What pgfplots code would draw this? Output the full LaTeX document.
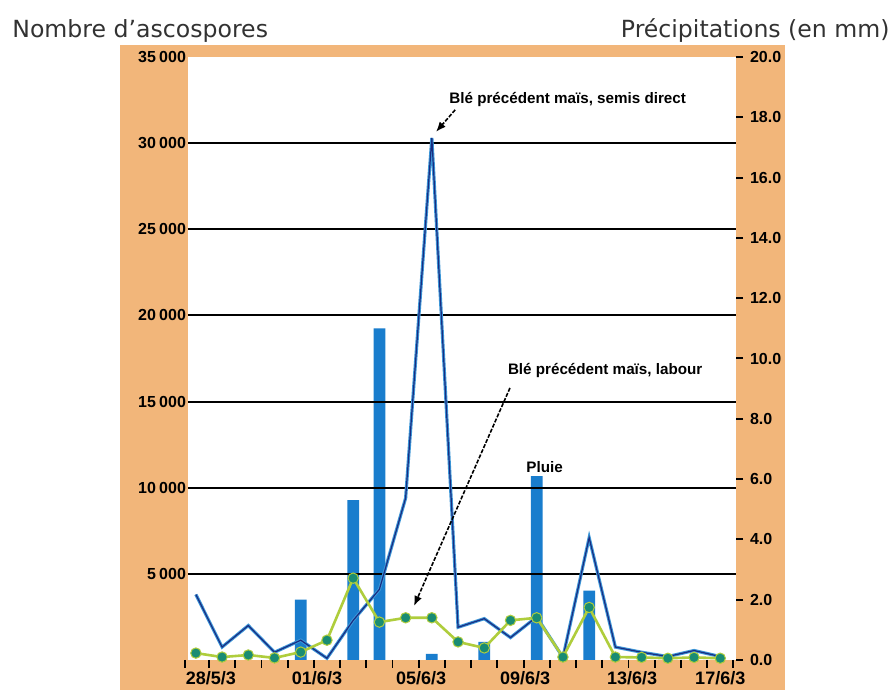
\documentclass[border=0pt]{standalone}
\usepackage{pgfplots}
\pgfplotsset{compat=1.18}
\usepackage{pgfplotstable}
\usepackage{fontspec}
\setmainfont{Liberation Sans}
\newfontfamily\titlefont{DejaVu Sans}
\usetikzlibrary{arrows.meta}

\definecolor{cadre}{RGB}{242,182,122}
\definecolor{pluie}{RGB}{25,125,205}
\definecolor{bleuclair}{RGB}{60,150,215}
\definecolor{marine}{RGB}{25,45,130}
\definecolor{jaunevert}{RGB}{175,205,60}
\definecolor{sarcelle}{RGB}{25,140,115}
\definecolor{titre}{RGB}{50,50,50}

% jour (0 = 28/5/3), nombre d'ascospores
\pgfplotstableread{
jour semis
0 3800
1 750
2 2000
3 450
4 1150
5 100
6 2300
7 4100
8 9400
9 30300
10 1900
11 2400
12 1300
13 2500
14 150
15 7100
16 750
17 450
18 200
19 550
20 200
}\semisdirect

\pgfplotstableread{
jour labour
0 400
1 170
2 290
3 120
4 460
5 1150
6 4750
7 2200
8 2450
9 2450
10 1050
11 700
12 2300
13 2450
14 170
15 3050
16 170
17 150
18 100
19 150
20 100
}\labour

% précipitations en mm
\pgfplotstableread{
jour mm
4 2.0
6 5.3
7 11.0
9 0.2
11 0.6
13 6.1
15 2.3
}\precip

\begin{document}
\begin{tikzpicture}
\path[use as bounding box] (-94pt,-15pt) rectangle (354pt,330pt);
\fill[cadre] (-34pt,-15pt) rectangle (298.5pt,307.5pt);
\fill[white] (0,0) rectangle (274pt,301.5pt);

\node[anchor=base west, font=\titlefont\fontsize{11.8}{13}\selectfont, text=titre, inner sep=0pt]
  at (-88pt,311.25pt) {Nombre d’ascospores};
\node[anchor=base east, font=\titlefont\fontsize{11.8}{13}\selectfont, text=titre, inner sep=0pt]
  at (351pt,311.25pt) {Précipitations (en mm)};

% axe de droite : pluie
\begin{axis}[
  at={(0,0)}, anchor=south west,
  scale only axis, width=274pt, height=301.5pt,
  xmin=-0.3, xmax=20.6, ymin=0, ymax=20,
  hide x axis,
  axis y line*=right,
  axis line style={draw=none},
  ytick={0,2,...,20},
  tick align=outside,
  major tick length=3.5pt,
  ytick style={black, line width=1pt},
  /pgf/number format/assume math mode=true,
  yticklabel style={font=\bfseries\fontsize{8}{9}\selectfont,
    /pgf/number format/.cd, fixed, fixed zerofill, precision=1},
]
\addplot[ybar, bar width=0.45, fill=pluie, draw=none] table[x=jour, y=mm] {\precip};
\end{axis}

% axe de gauche : ascospores
\begin{axis}[
  at={(0,0)}, anchor=south west,
  scale only axis, width=274pt, height=301.5pt,
  xmin=-0.3, xmax=20.6, ymin=0, ymax=35000,
  axis x line*=bottom,
  axis y line*=left,
  axis line style={draw=none},
  ytick={5000,10000,...,30000},
  extra y ticks={35000},
  extra y tick style={grid=none},
  ymajorgrids,
  grid style={black, line width=1pt},
  scaled y ticks=false,
  /pgf/number format/assume math mode=true,
  yticklabel style={font=\bfseries\fontsize{8}{9}\selectfont, xshift=2.5pt,
    /pgf/number format/.cd, 1000 sep={\hspace{1.6pt}}},
  xtick={0.57,4.62,8.59,12.56,16.64,20},
  xticklabels={28/5/3,01/6/3,05/6/3,09/6/3,13/6/3,17/6/3},
  xticklabel style={font=\bfseries\fontsize{9}{10}\selectfont, yshift=-2pt},
  major tick length=0pt,
  clip=false,
]
\addplot[bleuclair, line width=1.6pt] table[x=jour, y=semis] {\semisdirect};
\addplot[marine, line width=0.6pt] table[x=jour, y=semis] {\semisdirect};
\addplot[jaunevert, line width=1.3pt, mark=*, mark size=2.6pt,
  mark options={fill=sarcelle, draw=jaunevert, line width=0.5pt}]
  table[x=jour, y=labour] {\labour};

% petits traits entre les jours
\pgfplotsinvokeforeach{-0.42,0.5,1.5,2.5,3.5,4.5,5.5,6.5,7.5,8.5,9.5,10.5,11.5,12.5,13.5,14.5,15.5,16.5,17.5,18.5,19.5,20.5}{
  \draw[black, line width=0.9pt] (axis cs:#1,0) -- ++(0pt,-4pt);
}

\node[font=\bfseries\fontsize{7.6}{9}\selectfont] at (axis cs:14.18,32514)
  {Blé précédent maïs, semis direct};
\draw[-{Latex[length=5pt,width=4pt]}, line width=0.8pt, dash pattern=on 2pt off 0.8pt]
  (axis cs:9.89,31933) -- (axis cs:9.16,30656);
\node[font=\bfseries\fontsize{7.6}{9}\selectfont] at (axis cs:15.61,16780)
  {Blé précédent maïs, labour};
\draw[-{Latex[length=5pt,width=4pt]}, line width=0.8pt, dash pattern=on 2pt off 0.8pt]
  (axis cs:11.98,15792) -- (axis cs:8.32,3135);
\node[font=\bfseries\fontsize{7.6}{9}\selectfont] at (axis cs:13.3,11206) {Pluie};
\end{axis}
\end{tikzpicture}
\end{document}
